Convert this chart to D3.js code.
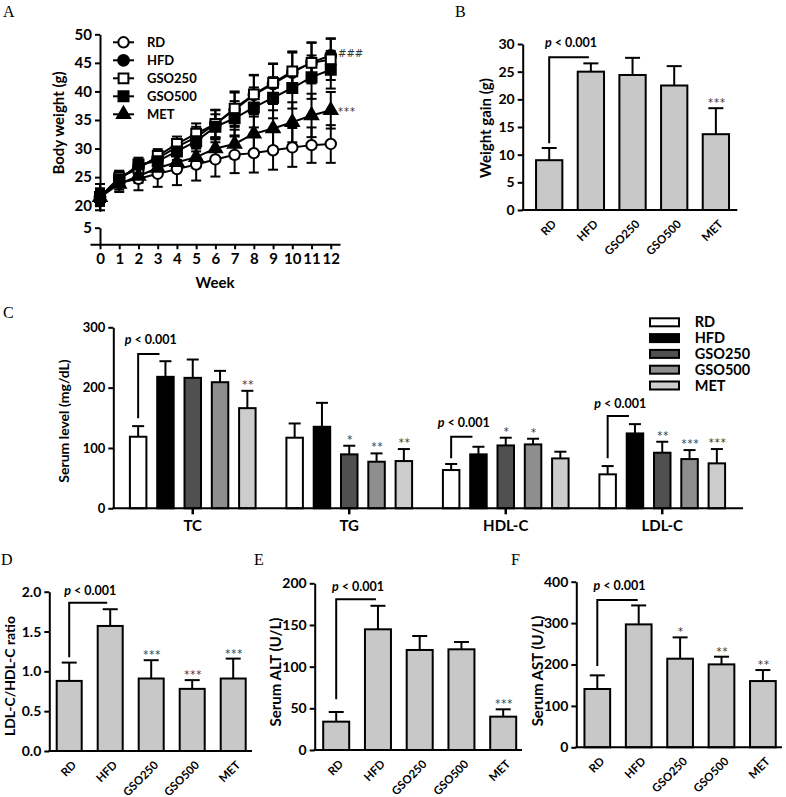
<!DOCTYPE html>
<html><head><meta charset="utf-8">
<script src="https://cdn.jsdelivr.net/npm/d3@7"></script>
<style>
body{margin:0;background:#fff}
svg{display:block}
</style></head><body>
<svg id="c" width="786" height="797"></svg>
<script>
// ---------------- DATA ----------------
const groups = ["RD","HFD","GSO250","GSO500","MET"];
const weeks = [0,1,2,3,4,5,6,7,8,9,10,11,12];
const weightTicksUpper = [20,25,30,35,40,45,50];
const weightTicksLower = [5];

const bwRD     = [21.5,24.0,24.7,25.6,26.4,27.2,28.1,28.9,29.2,29.7,30.2,30.6,30.8];
const bwHFD    = [21.5,24.9,26.8,28.3,30.3,32.0,34.3,36.8,39.4,41.3,43.3,45.1,46.3];
const bwGSO250 = [21.5,24.9,26.5,28.7,30.8,32.6,34.3,37.0,39.5,41.5,43.5,45.0,45.6];
const bwGSO500 = [21.5,24.5,27.2,27.8,29.5,31.3,33.8,35.3,37.2,38.9,40.6,42.5,43.8];
const bwMET    = [21.5,23.8,25.2,26.6,27.6,28.5,30.0,30.8,32.6,33.5,34.6,35.8,36.7];
const sdRD     = [2.3,1.6,2.0,2.3,2.8,2.8,3.0,3.2,3.4,3.4,3.4,3.1,3.3];
const sdHFD    = [1.5,1.2,1.3,1.2,1.3,1.8,2.4,3.0,3.4,3.5,3.5,3.4,3.0];
const sdGSO250 = [1.5,1.2,1.2,1.2,1.3,1.8,2.5,3.0,3.4,3.4,3.5,3.6,3.6];
const sdGSO500 = [1.3,1.0,1.2,1.4,1.5,1.8,2.2,3.0,3.5,3.6,3.6,3.8,3.3];
const sdMET    = [1.2,1.0,1.2,1.4,1.6,1.8,2.0,2.5,3.0,3.2,3.5,3.8,3.2];

const gainMean = [9.0,25.0,24.4,22.5,13.7];
const gainSD   = [2.2,1.5,3.1,3.5,4.7];
const gainStars = ["","","","","***"];
const gainTicks = [0,5,10,15,20,25,30];

const lipidCats = ["TC","TG","HDL-C","LDL-C"];
const lipidRD     = [118.6,117.0,63.4,56.3];
const lipidHFD    = [217.9,135.1,89.4,124.1];
const lipidGSO250 = [216.2,89.4,104.2,92.1];
const lipidGSO500 = [209.0,77.2,105.9,81.6];
const lipidMET    = [166.0,78.3,82.7,74.5];
const lipidRDsd     = [17.6,23.6,10.0,13.7];
const lipidHFDsd    = [25.9,39.7,12.6,15.4];
const lipidGSO250sd = [30.4,14.3,12.8,18.2];
const lipidGSO500sd = [18.8,13.8,9.4,14.9];
const lipidMETsd    = [28.7,19.9,11.1,23.7];
const lipidStarsRD     = ["","","",""];
const lipidStarsHFD    = ["","","",""];
const lipidStarsGSO250 = ["","*","*","**"];
const lipidStarsGSO500 = ["","**","*","***"];
const lipidStarsMET    = ["**","**","","***"];
const lipidTicks = [0,100,200,300];

const ratioMean = [0.88,1.57,0.91,0.78,0.91];
const ratioSD   = [0.23,0.21,0.23,0.11,0.25];
const ratioStars = ["","","***","***","***"];
const ratioTicks = [0,0.5,1.0,1.5,2.0];

const altMean = [34,144.8,120,120.8,40];
const altSD   = [11.6,28.2,16.8,8.8,8.8];
const altStars = ["","","","","***"];
const altTicks = [0,50,100,150,200];

const astMean = [140.8,296.9,214,200.3,160];
const astSD   = [33,45.8,51.5,18.5,26.6];
const astStars = ["","","*","**","**"];
const astTicks = [0,100,200,300,400];

// ---------------- HELPERS ----------------
const FONT = "Lato, 'Open Sans', sans-serif";
const svg = d3.select("#c");

function styleAxis(sel, fs){
  sel.attr("font-family", FONT).attr("font-size", fs).attr("font-weight","bold");
  sel.select(".domain").attr("stroke","#000").attr("stroke-width",2);
  sel.selectAll(".tick line").attr("stroke","#000").attr("stroke-width",2);
  sel.selectAll(".tick text").attr("fill","#000");
}
function yLabel(text, x, y, fs){
  svg.append("text").attr("transform",`translate(${x},${y}) rotate(-90)`)
    .attr("text-anchor","middle").attr("dominant-baseline","central")
    .attr("font-family",FONT).attr("font-weight","bold").attr("font-size",fs).text(text);
}
function pText(g, cx, y, fs){
  const t = g.append("text").attr("x",cx).attr("y",y).attr("text-anchor","middle")
    .attr("font-family",FONT).attr("font-weight","bold").attr("font-size",fs);
  t.append("tspan").attr("font-style","italic").text("p");
  t.append("tspan").text(" < 0.001");
}
function star(g, x, y, s){
  g.append("text").attr("x",x).attr("y",y).attr("text-anchor","middle")
   .attr("font-family","'DejaVu Sans', sans-serif").attr("font-size",10).attr("fill","#333")
   .attr("letter-spacing","1px").text(s);
}

// Panel letters
[["A",3,17],["B",455,17],["C",3,318],["D",1,565],["E",254,565],["F",511,565]].forEach(([t,x,y])=>{
  svg.append("text").attr("x",x).attr("y",y).attr("font-family","'Liberation Serif', serif")
    .attr("font-size",16).text(t);
});

// ---------------- PANEL A ----------------
(function(){
  const g = svg.append("g");
  const x = d3.scaleLinear().domain([-0.52,12.48]).range([90,340]);
  const yU = d3.scaleLinear().domain([19,50]).range([211.4,34.3]);
  const yL = d3.scaleLinear().domain([0,5]).range([244.3,227.7]);
  g.append("g").attr("transform","translate(0,244.3)")
    .call(d3.axisBottom(x).tickValues(weeks).tickFormat(d3.format("d")).tickSize(5).tickSizeOuter(0).tickPadding(4)).call(s=>styleAxis(s,15));
  g.append("g").attr("transform",`translate(${x(0)},0)`)
    .call(d3.axisLeft(yU).tickValues(weightTicksUpper).tickFormat(d3.format("d")).tickSize(5).tickSizeOuter(0)).call(s=>styleAxis(s,15));
  g.append("g").attr("transform",`translate(${x(0)},0)`)
    .call(d3.axisLeft(yL).tickValues(weightTicksLower).tickFormat(d3.format("d")).tickSize(5).tickSizeOuter(0)).call(s=>styleAxis(s,15));
  yLabel("Body weight (g)", 58, 123, 15);
  g.append("text").attr("x",215).attr("y",288).attr("text-anchor","middle")
    .attr("font-family",FONT).attr("font-weight","bold").attr("font-size",15).text("Week");

  const series = [
    {name:"RD", mean:bwRD, sd:sdRD, sym:d3.symbolCircle, size:85, fill:"#fff"},
    {name:"HFD", mean:bwHFD, sd:sdHFD, sym:d3.symbolCircle, size:90, fill:"#000"},
    {name:"GSO250", mean:bwGSO250, sd:sdGSO250, sym:d3.symbolSquare, size:95, fill:"#fff"},
    {name:"GSO500", mean:bwGSO500, sd:sdGSO500, sym:d3.symbolSquare, size:100, fill:"#000"},
    {name:"MET", mean:bwMET, sd:sdMET, sym:d3.symbolTriangle, size:75, fill:"#000"}
  ];
  series.forEach(s=>{
    const eg = g.append("g").attr("stroke","#000").attr("stroke-width",2);
    weeks.forEach((w,i)=>{
      const cx = x(w), lo = yU(s.mean[i]-s.sd[i]), hi = yU(s.mean[i]+s.sd[i]);
      eg.append("line").attr("x1",cx).attr("x2",cx).attr("y1",lo).attr("y2",hi);
      eg.append("line").attr("x1",cx-5).attr("x2",cx+5).attr("y1",lo).attr("y2",lo);
      eg.append("line").attr("x1",cx-5).attr("x2",cx+5).attr("y1",hi).attr("y2",hi);
    });
  });
  const line = d3.line().x((d,i)=>x(weeks[i])).y(d=>yU(d));
  series.forEach(s=>{
    g.append("path").attr("d",line(s.mean)).attr("fill","none").attr("stroke","#000").attr("stroke-width",2);
    g.selectAll(null).data(s.mean).join("path")
      .attr("transform",(d,i)=>`translate(${x(weeks[i])},${yU(d)})`)
      .attr("d",d3.symbol().type(s.sym).size(s.size)())
      .attr("fill",s.fill).attr("stroke","#000").attr("stroke-width",2);
  });
  series.forEach((s,i)=>{
    const ly = 42.3 + i*18;
    g.append("line").attr("x1",113).attr("x2",134).attr("y1",ly).attr("y2",ly).attr("stroke","#000").attr("stroke-width",2);
    g.append("path").attr("transform",`translate(123.5,${ly})`).attr("d",d3.symbol().type(s.sym).size(s.size)())
      .attr("fill",s.fill).attr("stroke","#000").attr("stroke-width",2);
    g.append("text").attr("x",147).attr("y",ly).attr("dy","0.35em").attr("font-family",FONT)
      .attr("font-weight","bold").attr("font-size",13).text(s.name);
  });
  g.append("text").attr("x",338).attr("y",57).attr("font-family","'DejaVu Sans', sans-serif").attr("font-size",10).attr("fill","#333").text("###");
  g.append("text").attr("x",338).attr("y",115).attr("font-family","'DejaVu Sans', sans-serif").attr("font-size",10).attr("fill","#333").attr("letter-spacing","1px").text("***");
})();

// ---------------- GENERIC BAR PANEL ----------------
function barPanel(o){
  const g = svg.append("g");
  const x = d3.scaleBand().domain(groups)
    .range([o.c0 - o.step/2, o.c0 - o.step/2 + o.step*groups.length])
    .paddingInner(1 - o.bw/o.step).paddingOuter((1 - o.bw/o.step)/2);
  const y = d3.scaleLinear().domain([0,o.max]).range([o.y0,o.yTop]);
  const cx = d => x(d) + x.bandwidth()/2;
  const eg = g.append("g").attr("stroke","#000").attr("stroke-width",2);
  groups.forEach((d,i)=>{
    const top = y(o.mean[i]+o.sd[i]);
    eg.append("line").attr("x1",cx(d)).attr("x2",cx(d)).attr("y1",y(o.mean[i])).attr("y2",top);
    eg.append("line").attr("x1",cx(d)-7.5).attr("x2",cx(d)+7.5).attr("y1",top).attr("y2",top);
    if(o.stars[i]) star(g, cx(d)+1, top-2, o.stars[i]);
  });
  g.selectAll("rect").data(groups).join("rect")
    .attr("x",d=>x(d)).attr("width",x.bandwidth())
    .attr("y",(d,i)=>y(o.mean[i])).attr("height",(d,i)=>o.y0-y(o.mean[i]))
    .attr("fill","#c8c8c8").attr("stroke","#000").attr("stroke-width",2);
  g.append("g").attr("transform",`translate(${o.x0},0)`)
    .call(d3.axisLeft(y).tickValues(o.ticks).tickFormat(o.fmt).tickSize(5).tickSizeOuter(0)).call(s=>styleAxis(s,14));
  g.append("line").attr("x1",o.x0-1).attr("x2",o.xEnd).attr("y1",o.y0).attr("y2",o.y0).attr("stroke","#000").attr("stroke-width",2);
  g.selectAll("text.xl").data(groups).join("text").attr("class","xl")
    .attr("text-anchor","end").attr("transform",d=>`translate(${cx(d)+5},${o.y0+12}) rotate(-45)`)
    .attr("dy","0.35em").attr("font-family",FONT).attr("font-weight","bold").attr("font-size",11.5).text(d=>d);
  const bx1 = cx("RD"), bx2 = cx("HFD") - o.bEndOff, by = y(o.bY);
  g.append("path").attr("d",`M${bx2},${by}H${bx1}V${y(o.bV)}`).attr("fill","none").attr("stroke","#000").attr("stroke-width",2);
  pText(g, (bx1+bx2)/2 + 2, by - o.bTextGap, 12.5);
  yLabel(o.label, o.lx, o.ly, o.lfs);
}

barPanel({x0:522.7, y0:210, yTop:44, max:30, ticks:gainTicks, fmt:d3.format("d"),
  c0:549.2, step:41.67, bw:26.3, xEnd:737.3, mean:gainMean, sd:gainSD, stars:gainStars,
  bY:27.6, bV:12.05, bEndOff:2, bTextGap:10, label:"Weight gain (g)", lx:485, ly:128, lfs:15});

barPanel({x0:49.3, y0:751, yTop:591.7, max:2.0, ticks:ratioTicks, fmt:d3.format(".1f"),
  c0:69.2, step:41.0, bw:25, xEnd:252, mean:ratioMean, sd:ratioSD, stars:ratioStars,
  bY:1.862, bV:1.176, bEndOff:3, bTextGap:8, label:"LDL-C/HDL-C ratio", lx:9, ly:676, lfs:14});

barPanel({x0:314.7, y0:750, yTop:583.3, max:200, ticks:altTicks, fmt:d3.format("d"),
  c0:336.2, step:41.75, bw:26, xEnd:522, mean:altMean, sd:altSD, stars:altStars,
  bY:180.8, bV:60.8, bEndOff:2, bTextGap:8, label:"Serum ALT (U/L)", lx:275, ly:672, lfs:15});

barPanel({x0:576.3, y0:747.3, yTop:581.7, max:400, ticks:astTicks, fmt:d3.format("d"),
  c0:597.3, step:41.4, bw:25.7, xEnd:782, mean:astMean, sd:astSD, stars:astStars,
  bY:355.8, bV:196.4, bEndOff:1, bTextGap:10, label:"Serum AST (U/L)", lx:537, ly:671, lfs:15});

// ---------------- PANEL C ----------------
(function(){
  const g = svg.append("g");
  const y0 = 508.3;
  const x0 = d3.scaleBand().domain(lipidCats).range([114.5,740.5]);
  const x1 = d3.scaleBand().domain(groups).range([-68.25,68.25]).paddingInner(0.396).paddingOuter(0.198);
  const y = d3.scaleLinear().domain([0,300]).range([y0,327.3]);
  const series = [
    {name:"RD", mean:lipidRD, sd:lipidRDsd, stars:lipidStarsRD, fill:"#ffffff"},
    {name:"HFD", mean:lipidHFD, sd:lipidHFDsd, stars:lipidStarsHFD, fill:"#000000"},
    {name:"GSO250", mean:lipidGSO250, sd:lipidGSO250sd, stars:lipidStarsGSO250, fill:"#505050"},
    {name:"GSO500", mean:lipidGSO500, sd:lipidGSO500sd, stars:lipidStarsGSO500, fill:"#8e8e8e"},
    {name:"MET", mean:lipidMET, sd:lipidMETsd, stars:lipidStarsMET, fill:"#cdcdcd"}
  ];
  const gc = c => x0(c) + x0.bandwidth()/2;
  const bc = (c,s) => gc(c) + x1(s) + x1.bandwidth()/2;
  const eg = g.append("g").attr("stroke","#000").attr("stroke-width",2);
  series.forEach(s=>{
    lipidCats.forEach((c,i)=>{
      const cx = bc(c,s.name), top = y(s.mean[i]+s.sd[i]);
      eg.append("line").attr("x1",cx).attr("x2",cx).attr("y1",y(s.mean[i])).attr("y2",top);
      eg.append("line").attr("x1",cx-6).attr("x2",cx+6).attr("y1",top).attr("y2",top);
      if(s.stars[i]) star(g, cx+1, top-3, s.stars[i]);
    });
    g.selectAll(null).data(s.mean).join("rect")
      .attr("x",(d,i)=>gc(lipidCats[i]) + x1(s.name)).attr("width",x1.bandwidth())
      .attr("y",d=>y(d)).attr("height",d=>y0-y(d))
      .attr("fill",s.fill).attr("stroke","#000").attr("stroke-width",2);
  });
  g.append("g").attr("transform","translate(113.3,0)")
    .call(d3.axisLeft(y).tickValues(lipidTicks).tickSize(5).tickSizeOuter(0)).call(s=>styleAxis(s,13));
  g.append("line").attr("x1",112.3).attr("x2",743).attr("y1",y0).attr("y2",y0).attr("stroke","#000").attr("stroke-width",2);
  lipidCats.forEach(c=>{
    g.append("line").attr("x1",gc(c)).attr("x2",gc(c)).attr("y1",y0).attr("y2",y0+6).attr("stroke","#000").attr("stroke-width",2.5);
    g.append("text").attr("x",gc(c)).attr("y",y0+17).attr("dy","0.35em").attr("text-anchor","middle")
      .attr("font-family",FONT).attr("font-weight","bold").attr("font-size",15).text(c);
  });
  const brackets = [[0,255.9,149.3,10],[2,118.7,82.9,10],[3,153,82.9,8]];
  brackets.forEach(([ci,bv,vv,tg])=>{
    const c = lipidCats[ci];
    const bx1 = bc(c,"RD"), bx2 = bc(c,"HFD") - 6, by = y(bv);
    g.append("path").attr("d",`M${bx2},${by}H${bx1}V${y(vv)}`).attr("fill","none").attr("stroke","#000").attr("stroke-width",2);
    pText(g, (bx1+bx2)/2 + 2, by - tg, 12.5);
  });
  series.forEach((s,i)=>{
    const ly = 322.3 + i*15.8;
    g.append("rect").attr("x",650).attr("y",ly-4).attr("width",29).attr("height",8)
      .attr("fill",s.fill).attr("stroke","#000").attr("stroke-width",2);
    g.append("text").attr("x",694.7).attr("y",ly).attr("dy","0.35em").attr("font-family",FONT)
      .attr("font-weight","bold").attr("font-size",14.5).text(s.name);
  });
  yLabel("Serum level (mg/dL)", 63.3, 421, 14);
})();
</script>
</body></html>
